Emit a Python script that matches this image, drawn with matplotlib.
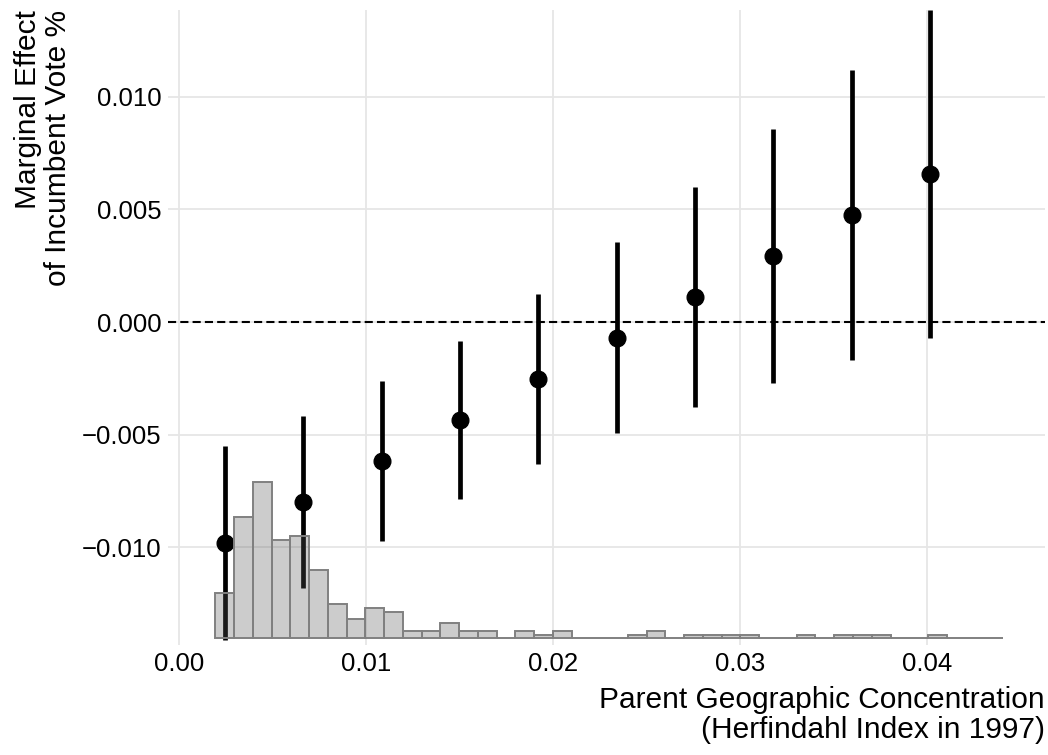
import numpy as np
import matplotlib
matplotlib.use("Agg")
from matplotlib import pyplot as plt

plt.rcParams["font.family"] = ["Liberation Sans", "DejaVu Sans"]

# marginal effect estimates at each concentration value
conc = [0.00244, 0.00663, 0.01082, 0.01501, 0.01920,
        0.02339, 0.02758, 0.03176, 0.03597, 0.04016]
effect = [-0.00980, -0.00798, -0.00617, -0.00435, -0.00253,
          -0.00070, 0.00112, 0.00294, 0.00475, 0.00657]
lower = [-0.01410, -0.01179, -0.00971, -0.00786, -0.00630,
         -0.00494, -0.00376, -0.00272, -0.00169, -0.00072]
upper = [-0.00550, -0.00417, -0.00262, -0.00083, 0.00124,
         0.00354, 0.00601, 0.00857, 0.01119, 0.01386]

# distribution of the concentration index (counts per bin)
hist_counts = [12, 32, 41, 26, 27, 18, 9, 5, 8, 7, 2, 2, 4, 2, 2, 0, 2, 1, 2, 0, 0,
               0, 1, 2, 0, 1, 1, 1, 1, 0, 0, 1, 0, 1, 1, 1, 0, 0, 1, 0, 0, 0]
bin_start = 0.001925
bin_width = 0.001003
hist_base = -0.01404
hist_unit = 0.0001687   # y-units per count

x_ticks = [0.00, 0.01, 0.02, 0.03, 0.04]
x_ticklabels = ["0.00", "0.01", "0.02", "0.03", "0.04"]
y_ticks = [-0.010, -0.005, 0.000, 0.005, 0.010]
y_ticklabels = ["\u22120.010", "\u22120.005", "0.000", "0.005", "0.010"]

fig = plt.figure(figsize=(10.48, 7.55), dpi=100)
ax = fig.add_axes([168 / 1048, 1 - 645 / 755, 877 / 1048, 635 / 755])

ax.set_xlim(-0.000604, 0.046294)
ax.set_ylim(-0.014336, 0.013848)

ax.axhline(0, color="black", lw=1.5, ls=(0, (3.9, 2.0)), zorder=2)

ax.vlines(conc, lower, upper, color="black", lw=3.4, zorder=3)
ax.plot(conc, effect, "o", color="black", ms=12, zorder=4)

lefts = bin_start + bin_width * np.arange(len(hist_counts))
heights = np.array(hist_counts) * hist_unit
ax.bar(lefts, heights, width=bin_width, bottom=hist_base, align="edge",
       facecolor=(0.35, 0.35, 0.35, 0.3), edgecolor="#808080", lw=1.4, zorder=5)

ax.set_xticks(x_ticks)
ax.set_xticklabels(x_ticklabels)
ax.set_yticks(y_ticks)
ax.set_yticklabels(y_ticklabels)
ax.tick_params(length=0, labelsize=18.5, colors="black")
ax.tick_params(axis="y", pad=4.5)
ax.tick_params(axis="x", pad=5)
ax.grid(True, color="#e6e6e6", lw=1.3, zorder=0)
ax.set_axisbelow(True)
for s in ax.spines.values():
    s.set_visible(False)

ax.set_xlabel("Parent Geographic Concentration\n(Herfindahl Index in 1997)",
              fontsize=21.5, loc="right", linespacing=1.1)
ax.xaxis.set_label_coords(1.0, -0.064)
ax.set_ylabel("Marginal Effect\nof Incumbent Vote %",
              fontsize=21.5, loc="top", linespacing=1.1)
ax.yaxis.set_label_coords(-0.1095, 1.0)

fig.savefig("out.png", dpi=100)
